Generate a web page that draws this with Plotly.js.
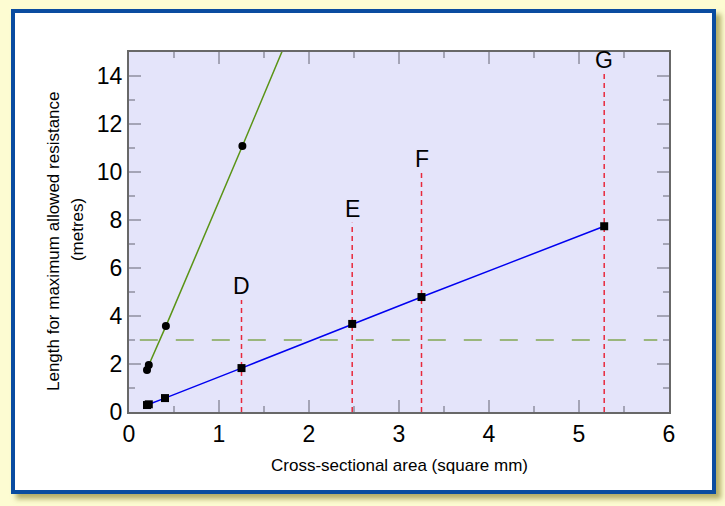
<!DOCTYPE html>
<html>
<head>
<meta charset="utf-8">
<script src="https://cdn.plot.ly/plotly-3.0.1.min.js"></script>
<style>
  html, body { margin: 0; padding: 0; }
  body { width: 725px; height: 506px; background: #fdfcd2; position: relative; overflow: hidden; }
  #frame { position: absolute; left: 11px; top: 9px; width: 697px; height: 477px;
           border: 4px solid #0a4ca0; background: #ffffff;
           box-shadow: 5px 5px 5px rgba(140,130,50,0.65); }
  #chart { position: absolute; left: 0; top: 0; width: 725px; height: 506px; }
</style>
</head>
<body>
<div id="frame"></div>
<div id="chart"></div>
<script>
// Cross-sectional area (square mm)
const areaBlue   = [0.20, 0.22, 0.40, 1.25, 2.48, 3.25, 5.28];
const lengthBlue = [0.29, 0.32, 0.58, 1.83, 3.67, 4.79, 7.74];

const areaGreen   = [0.20, 0.22, 0.41, 1.26, 2.48];
const lengthGreen = [1.75, 1.96, 3.58, 11.08, 22.0];

// Marker lines D..G
const markLabels = ["D", "E", "F", "G"];
const markX      = [1.25, 2.48, 3.25, 5.28];
const markTop    = [4.67, 7.89, 9.97, 14.1];

// Horizontal reference level
const refX = [0.12, 5.87];
const refY = [3, 3];

const FONT = "Liberation Sans, Arial, Helvetica, sans-serif";

const traces = [];
markX.forEach((x, i) => {
  traces.push({
    x: [x, x], y: [0, markTop[i]], mode: "lines", type: "scatter",
    line: { color: "#e8283c", width: 1.5, dash: "5px,4px" },
    hoverinfo: "skip", showlegend: false
  });
});
traces.push({
  x: refX, y: refY, mode: "lines", type: "scatter",
  line: { color: "#9ab67c", width: 2, dash: "18px,18px" },
  showlegend: false
});
traces.push({
  x: areaGreen, y: lengthGreen, mode: "lines+markers", type: "scatter",
  line: { color: "#5a9416", width: 1.5 },
  marker: { symbol: "circle", size: 8, color: "#000000" },
  cliponaxis: true, showlegend: false
});
traces.push({
  x: areaBlue, y: lengthBlue, mode: "lines+markers", type: "scatter",
  line: { color: "#0000f0", width: 1.5 },
  marker: { symbol: "square", size: 8, color: "#000000" },
  showlegend: false
});

const annotations = markLabels.map((t, i) => ({
  x: markX[i], y: markTop[i], xref: "x", yref: "y",
  text: t, showarrow: false, xanchor: "center", yanchor: "middle", yshift: 14,
  font: { family: FONT, size: 23, color: "#000" }
}));
annotations.push({
  xref: "paper", yref: "paper", x: -0.1407, y: 0.475, textangle: -90,
  text: "Length for maximum allowed resistance", showarrow: false,
  xanchor: "center", yanchor: "middle",
  font: { family: FONT, size: 17, color: "#000" }
});
annotations.push({
  xref: "paper", yref: "paper", x: -0.0963, y: 0.508, textangle: -90,
  text: "(metres)", showarrow: false,
  xanchor: "center", yanchor: "middle",
  font: { family: FONT, size: 17, color: "#000" }
});
annotations.push({
  xref: "paper", yref: "paper", x: 0.5, y: -0.15,
  text: "Cross-sectional area (square mm)", showarrow: false,
  xanchor: "center", yanchor: "middle",
  font: { family: FONT, size: 17, color: "#000" }
});

const axisCommon = {
  showgrid: false, zeroline: false,
  showline: true, linecolor: "#686868", linewidth: 2, mirror: "ticks",
  ticks: "inside", ticklen: 12, tickwidth: 2, tickcolor: "#a4a4b6",
  tickfont: { family: FONT, size: 23, color: "#000" },
  fixedrange: true
};

const layout = {
  width: 725, height: 506,
  margin: { l: 129, r: 56, t: 52, b: 94, pad: 0 },
  paper_bgcolor: "rgba(0,0,0,0)",
  plot_bgcolor: "#e4e4fa",
  showlegend: false,
  xaxis: Object.assign({}, axisCommon, {
    range: [0, 6], dtick: 1, tick0: 0,
    minor: { dtick: 0.5, ticks: "inside", ticklen: 6, tickwidth: 2, tickcolor: "#a4a4b6" }
  }),
  yaxis: Object.assign({}, axisCommon, {
    range: [0, 15], dtick: 2, tick0: 0,
    minor: { dtick: 1, ticks: "inside", ticklen: 6, tickwidth: 2, tickcolor: "#a4a4b6" }
  }),
  annotations: annotations
};

Plotly.newPlot("chart", traces, layout, { displayModeBar: false, staticPlot: true });
</script>
</body>
</html>
